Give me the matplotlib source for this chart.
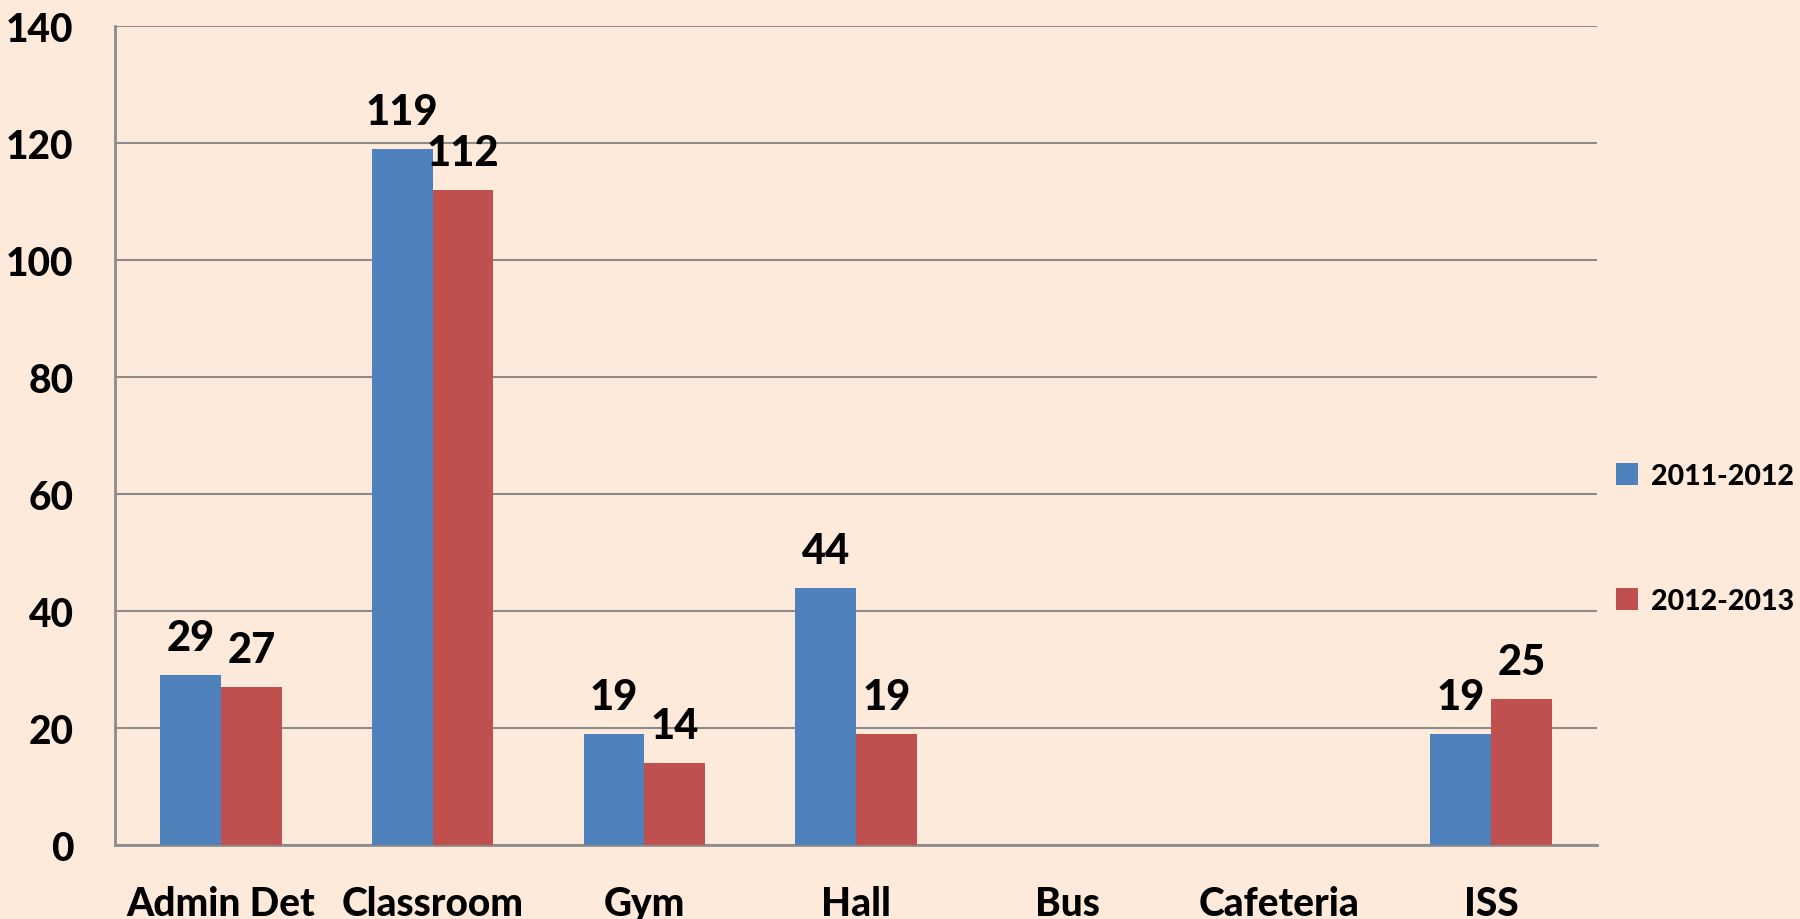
import numpy as np
import matplotlib
matplotlib.use("Agg")
import matplotlib.pyplot as plt

categories = ["Admin Det", "Classroom", "Gym", "Hall", "Bus", "Cafeteria", "ISS"]
series_names = ["2011-2012", "2012-2013"]
values_2011 = [29, 119, 19, 44, 0, 0, 19]
values_2012 = [27, 112, 14, 19, 0, 0, 25]
y_ticks = [0, 20, 40, 60, 80, 100, 120, 140]

bg = "#FDEADA"
blue = "#4F81BD"
red = "#C0504D"
grid_col = "#8C8C8C"

plt.rcParams["font.family"] = ["Lato", "DejaVu Sans"]
wt = "black"

fig = plt.figure(figsize=(18, 9.2), dpi=100, facecolor=bg)
ax = fig.add_axes([115 / 1800, 1 - 846 / 920, 1482 / 1800, 819 / 920])
ax.set_facecolor(bg)

x = np.arange(len(categories))
w = 0.287
b1 = ax.bar(x - w / 2, values_2011, w, color=blue, label=series_names[0], zorder=3)
b2 = ax.bar(x + w / 2, values_2012, w, color=red, label=series_names[1], zorder=3)

for bars, vals in ((b1, values_2011), (b2, values_2012)):
    for rect, v in zip(bars, vals):
        if v == 0:
            continue
        ax.annotate(str(v), (rect.get_x() + rect.get_width() / 2, v),
                    xytext=(0, 18), textcoords="offset points",
                    ha="center", va="baseline", fontsize=30, fontweight=wt)

ax.set_xlim(-0.5, len(categories) - 0.5)
ax.set_ylim(0, 140)
ax.set_yticks(y_ticks)
ax.set_xticks(x)
ax.set_xticklabels(categories)
ax.tick_params(axis="both", length=0, labelsize=28)
ax.tick_params(axis="y", pad=30)
ax.tick_params(axis="x", pad=29)
for lab in ax.get_xticklabels() + ax.get_yticklabels():
    lab.set_fontweight(wt)

ax.grid(axis="y", color=grid_col, linewidth=1.5, zorder=0)
ax.set_axisbelow(True)
for s in ["top", "right"]:
    ax.spines[s].set_visible(False)
ax.spines["left"].set_color(grid_col)
ax.spines["left"].set_linewidth(2)
ax.spines["bottom"].set_color(grid_col)
ax.spines["bottom"].set_linewidth(2)

leg = fig.legend(loc="upper left", bbox_to_anchor=(1590 / 1800, 1 - 438 / 920),
                 frameon=False, prop={"size": 20.5, "weight": wt},
                 handlelength=0.8, handleheight=0.8, handletextpad=0.45,
                 labelspacing=3.5)

fig.savefig("out.png", dpi=100, facecolor=bg)
